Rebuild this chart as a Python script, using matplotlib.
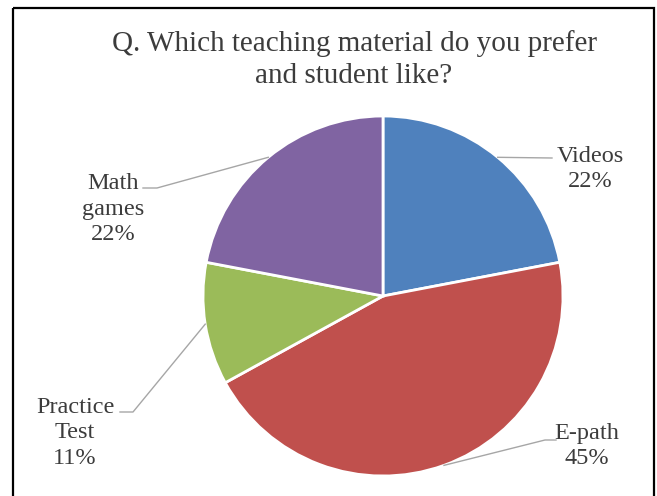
import numpy as np
import matplotlib
matplotlib.use("Agg")
import matplotlib.pyplot as plt
from matplotlib.patches import Rectangle

# survey shares
materials = ["Videos", "E-path", "Practice\nTest", "Math\ngames"]
shares = [22, 45, 11, 22]
colors = ["#4F81BD", "#C0504D", "#9BBB59", "#8064A2"]

W, H = 657, 496
plt.rcParams["font.family"] = ["Liberation Serif", "DejaVu Serif"]
text_color = "#3c3c3c"

fig = plt.figure(figsize=(W / 100, H / 100), dpi=100)
ax = fig.add_axes([0, 0, 1, 1])

center = (383, 296)
radius = 180

# y axis is inverted below, so counterclock=True draws clockwise on screen;
# start at the top (-90 deg in flipped coordinates)
wedges, _ = ax.pie(
    shares,
    colors=colors,
    startangle=-90,
    counterclock=True,
    center=center,
    radius=radius,
    wedgeprops=dict(edgecolor="white", linewidth=2),
    frame=True,
)
ax.set_xlim(0, W)
ax.set_ylim(H, 0)  # pixel-style coordinates, y downward
ax.set_aspect("equal")
ax.axis("off")

# label centres and leader-line elbows, per slice
label_pos = [(590, 169), (587, 446), (75, 433), (113, 209)]
elbows = [
    [(552, 158)],
    [(545, 440), (556, 440)],
    [(133, 412), (120, 412)],
    [(157, 188), (143, 188)],
]

for w, name, val, (lx, ly), elbow in zip(wedges, materials, shares, label_pos, elbows):
    mid = np.deg2rad((w.theta1 + w.theta2) / 2)
    sx = center[0] + radius * np.cos(mid)
    sy = center[1] + radius * np.sin(mid)
    xs = [sx] + [p[0] for p in elbow]
    ys = [sy] + [p[1] for p in elbow]
    ax.plot(xs, ys, color="#A6A6A6", lw=1.0, zorder=3)
    ax.text(lx, ly, f"{name}\n{val}%", ha="center", va="center",
            fontsize=17.5, color=text_color, linespacing=1.3)

ax.text(354, 60, "Q. Which teaching material do you prefer\nand student like?",
        ha="center", va="center", fontsize=21, color=text_color, linespacing=1.3)

# chart border (bottom edge runs off the canvas)
ax.add_patch(Rectangle((13, 8), 641, 520, fill=False, edgecolor="black",
                       lw=1.6, clip_on=True, zorder=5))

fig.savefig("out.png", dpi=100)
